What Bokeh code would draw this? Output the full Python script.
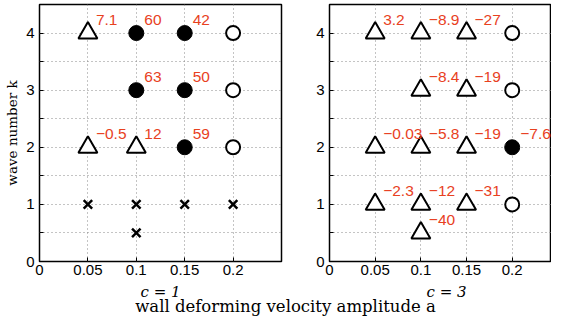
from bokeh.plotting import figure
from bokeh.layouts import column, row
from bokeh.models import FixedTicker, ColumnDataSource, Range1d, Label
from bokeh.core.properties import value
from bokeh.embed import file_html
from bokeh.resources import INLINE

# ---- data: c = 1 ----
c1_tri_a = [0.05, 0.05, 0.1]
c1_tri_k = [4, 2, 2]
c1_tri_v = ["7.1", "\u22120.5", "12"]
c1_fill_a = [0.1, 0.15, 0.1, 0.15, 0.15]
c1_fill_k = [4, 4, 3, 3, 2]
c1_fill_v = ["60", "42", "63", "50", "59"]
c1_open_a = [0.2, 0.2, 0.2]
c1_open_k = [4, 3, 2]
c1_x_a = [0.05, 0.1, 0.15, 0.2, 0.1]
c1_x_k = [1, 1, 1, 1, 0.5]

# ---- data: c = 3 ----
c3_tri_a = [0.05, 0.1, 0.15, 0.1, 0.15, 0.05, 0.1, 0.15, 0.05, 0.1, 0.15, 0.1]
c3_tri_k = [4, 4, 4, 3, 3, 2, 2, 2, 1, 1, 1, 0.5]
c3_tri_v = ["3.2", "\u22128.9", "\u221227", "\u22128.4", "\u221219", "\u22120.03",
            "\u22125.8", "\u221219", "\u22122.3", "\u221212", "\u221231", "\u221240"]
c3_fill_a = [0.2]
c3_fill_k = [2]
c3_fill_v = ["\u22127.6"]
c3_open_a = [0.2, 0.2, 0.2]
c3_open_k = [4, 3, 1]
c3_x_a = []
c3_x_k = []

x_ticks = [0, 0.05, 0.1, 0.15, 0.2]
y_ticks = [0, 0.5, 1, 1.5, 2, 2.5, 3, 3.5, 4]
y_labels = {0: "0", 1: "1", 2: "2", 3: "3", 4: "4"}
panel_titles = ["c = 1", "c = 3"]

RED = "#e8411e"
SERIF = "DejaVu Serif"
SANS = "Liberation Sans"


def make_panel(tri, fill, opn, xs, width, x_end, left, right, ylabel):
    p = figure(width=width, height=281, output_backend="svg",
               toolbar_location=None,
               x_range=Range1d(0, x_end), y_range=Range1d(0, 4.5),
               min_border_left=left, min_border_right=right,
               min_border_top=4, min_border_bottom=20)
    p.outline_line_color = "black"
    p.outline_line_width = 1.5
    p.background_fill_color = "white"
    p.border_fill_color = "white"

    for ax in (p.xaxis[0], p.yaxis[0]):
        ax.axis_line_color = None
        ax.major_tick_in = 4
        ax.major_tick_out = 0
        ax.minor_tick_line_color = None
        ax.major_label_text_font = SANS
        ax.major_label_text_font_size = "15px"
        ax.major_label_text_color = "black"
        ax.major_tick_line_color = "black"
    p.xaxis.ticker = FixedTicker(ticks=x_ticks)
    p.xaxis.major_label_overrides = {0: "0", 0.05: "0.05", 0.1: "0.1", 0.15: "0.15", 0.2: "0.2"}
    p.xaxis.major_label_standoff = 3
    p.yaxis.ticker = FixedTicker(ticks=y_ticks)
    p.yaxis.major_label_overrides = {t: y_labels.get(t, "") for t in y_ticks}
    p.yaxis.major_label_standoff = 5
    if ylabel:
        p.yaxis.axis_label = ylabel
        p.yaxis.axis_label_text_font = SERIF
        p.yaxis.axis_label_text_font_style = "normal"
        p.yaxis.axis_label_text_font_size = "13.5px"
        p.yaxis.axis_label_text_color = "black"
        p.yaxis.axis_label_standoff = 3

    for g in (p.xgrid[0], p.ygrid[0]):
        g.grid_line_color = "#888888"
        g.grid_line_dash = "1 3"
        g.grid_line_width = 1

    ta, tk, tv = tri
    fa, fk, fv = fill
    oa, ok = opn
    xa, xk = xs
    if ta:
        p.scatter(ta, tk, marker="triangle", size=19, fill_color="white",
                  line_color="black", line_width=2)
    if fa:
        p.scatter(fa, fk, marker="circle", size=15, fill_color="black",
                  line_color="black", line_width=1)
    if oa:
        p.scatter(oa, ok, marker="circle", size=14, fill_color="white",
                  line_color="black", line_width=2)
    if xa:
        p.scatter(xa, xk, marker="x", size=12, line_color="black", line_width=2.5)
    lbl_a = list(ta) + list(fa)
    lbl_k = list(tk) + list(fk)
    lbl_v = list(tv) + list(fv)
    if lbl_a:
        src = ColumnDataSource(dict(a=lbl_a, k=lbl_k, t=lbl_v))
        p.text(x="a", y="k", text="t", source=src, x_offset=8, y_offset=-13,
               text_align="left", text_baseline="middle", text_color=RED,
               text_font=value(SANS), text_font_size="15.5px")
    return p


p1 = make_panel((c1_tri_a, c1_tri_k, c1_tri_v), (c1_fill_a, c1_fill_k, c1_fill_v),
                (c1_open_a, c1_open_k), (c1_x_a, c1_x_k),
                298, 0.25, 39, 17, "wave number k")
p2 = make_panel((c3_tri_a, c3_tri_k, c3_tri_v), (c3_fill_a, c3_fill_k, c3_fill_v),
                (c3_open_a, c3_open_k), (c3_x_a, c3_x_k),
                253, 0.243, 31, 0, None)

# bottom strip with panel captions and the common x label
p3 = figure(width=551, height=35, output_backend="svg", toolbar_location=None,
            x_range=Range1d(0, 551), y_range=Range1d(0, 35),
            min_border=0)
p3.axis.visible = False
p3.grid.visible = False
p3.outline_line_color = None
for cx, t in zip([160, 446], panel_titles):
    p3.add_layout(Label(x=cx, y=25, text=t, text_font=SERIF,
                        text_font_style="italic", text_font_size="15px",
                        text_align="center", text_baseline="middle",
                        text_color="black"))
p3.add_layout(Label(x=285, y=10,
                    text="wall deforming velocity amplitude a",
                    text_font=SERIF, text_font_size="16.5px",
                    text_align="center", text_baseline="middle", text_color="black"))

layout = column(row(p1, p2), p3)
open("out.html", "w").write(file_html(layout, INLINE))
